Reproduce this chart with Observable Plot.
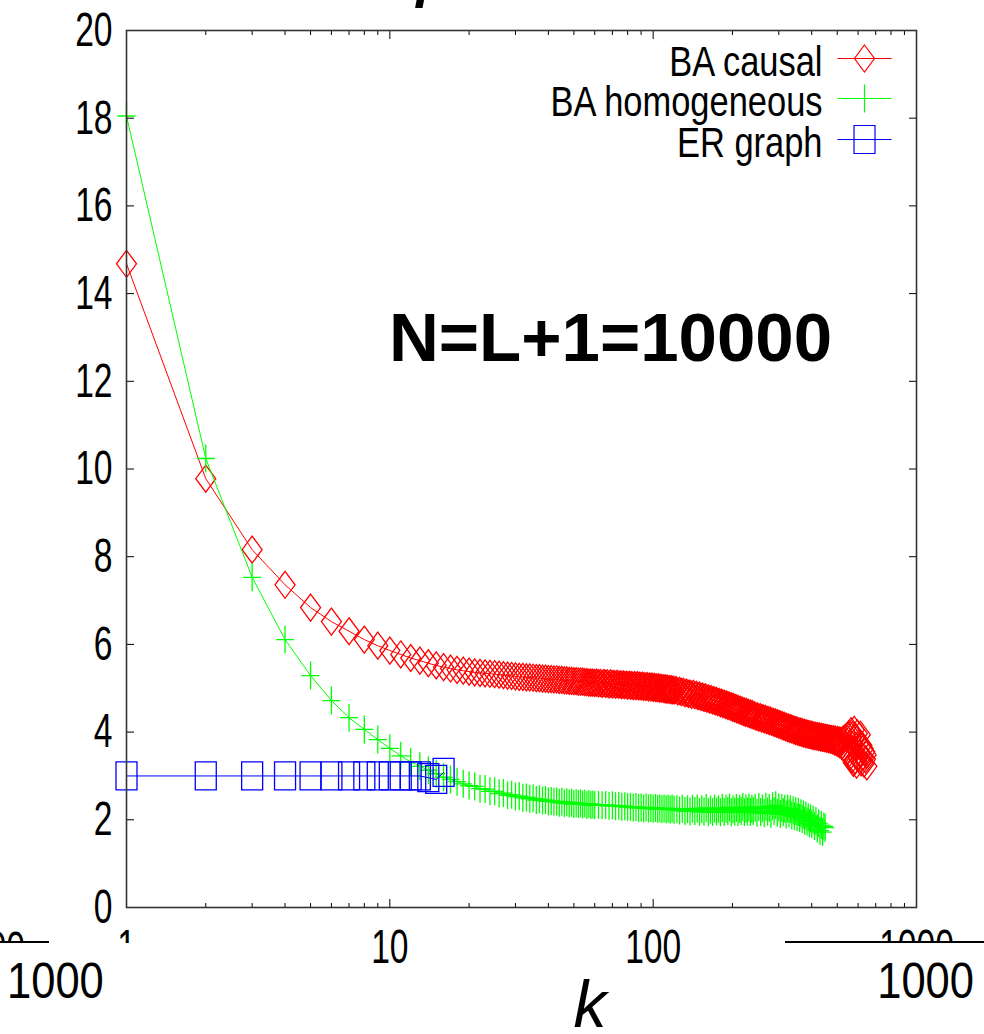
<!DOCTYPE html>
<html>
<head>
<meta charset="utf-8">
<script src="https://cdn.jsdelivr.net/npm/d3@7"></script>
<script src="https://cdn.jsdelivr.net/npm/@observablehq/plot@0.6"></script>
<style>
  html, body { margin: 0; padding: 0; background: #fff; }
  svg { display: block; }
</style>
</head>
<body>
<div id="chart"></div>
<script>
// ---------------- data ----------------
const xTicksMajor = [1, 10, 100, 1000];
const xTicksMinor = [2, 3, 4, 5, 6, 7, 8, 9, 20, 30, 40, 50, 60, 70, 80, 90, 200, 300, 400, 500, 600, 700, 800, 900];
const yTicks = [0, 2, 4, 6, 8, 10, 12, 14, 16, 18, 20];

const seriesNames = ["BA causal", "BA homogeneous", "ER graph"];
const seriesColors = ["#ff0000", "#00ff00", "#0000ff"];
const annotation = "N=L+1=10000";
const xLabel = "k";

// degree k sampled densely (as in the source, where every integer k is drawn)
const redK = [...d3.range(1, 121), ...d3.range(122, 241, 2), ...d3.range(243, 403, 3), ...d3.range(404, 649, 4)];
const redV = [
  // 1..60
  14.68, 9.78, 8.16, 7.36, 6.84, 6.52, 6.30, 6.11, 5.97, 5.86,
  5.77, 5.69, 5.63, 5.57, 5.52, 5.48, 5.45, 5.42, 5.40, 5.38,
  5.36, 5.35, 5.34, 5.33, 5.32, 5.31, 5.30, 5.29, 5.28, 5.27,
  5.26, 5.26, 5.25, 5.25, 5.24, 5.23, 5.23, 5.22, 5.22, 5.21,
  5.21, 5.20, 5.20, 5.19, 5.19, 5.18, 5.18, 5.17, 5.17, 5.16,
  5.16, 5.15, 5.15, 5.15, 5.14, 5.14, 5.13, 5.13, 5.13, 5.12,
  // 61..120
  5.13, 5.11, 5.12, 5.10, 5.12, 5.10, 5.11, 5.09, 5.11, 5.09,
  5.10, 5.08, 5.10, 5.08, 5.09, 5.07, 5.09, 5.07, 5.08, 5.06,
  5.08, 5.06, 5.07, 5.05, 5.07, 5.05, 5.07, 5.04, 5.06, 5.04,
  5.06, 5.03, 5.05, 5.03, 5.05, 5.02, 5.04, 5.02, 5.04, 5.01,
  5.03, 5.01, 5.02, 5.00, 5.02, 4.99, 5.01, 4.99, 5.00, 4.98,
  5.00, 4.97, 4.99, 4.97, 4.98, 4.96, 4.98, 4.95, 4.97, 4.95,
  // 122..240 step 2
  4.96, 4.93, 4.94, 4.91, 4.92, 4.89, 4.90, 4.87, 4.88, 4.85,
  4.87, 4.84, 4.85, 4.82, 4.83, 4.80, 4.81, 4.78, 4.79, 4.76,
  4.77, 4.74, 4.75, 4.72, 4.73, 4.70, 4.71, 4.68, 4.69, 4.66,
  4.67, 4.64, 4.65, 4.62, 4.63, 4.60, 4.61, 4.58, 4.59, 4.56,
  4.57, 4.54, 4.55, 4.52, 4.53, 4.50, 4.51, 4.48, 4.49, 4.46,
  4.47, 4.44, 4.46, 4.43, 4.44, 4.41, 4.42, 4.40, 4.41, 4.38,
  // 243..402 step 3
  4.38, 4.35, 4.36, 4.33, 4.34, 4.31, 4.32, 4.29, 4.30, 4.27,
  4.28, 4.25, 4.26, 4.23, 4.24, 4.21, 4.22, 4.19, 4.20, 4.17,
  4.18, 4.15, 4.16, 4.13, 4.14, 4.11, 4.12, 4.09, 4.10, 4.07,
  4.09, 4.06, 4.07, 4.04, 4.05, 4.03, 4.04, 4.01, 4.02, 4.00,
  4.01, 3.98, 4.00, 3.97, 3.98, 3.96, 3.97, 3.95, 3.96, 3.94,
  3.95, 3.93, 3.94, 3.92,
  // 404..648 step 4
  3.93, 3.91, 3.92, 3.90, 3.91, 3.89, 3.90, 3.88, 3.89, 3.87,
  3.88, 3.86, 3.87, 3.85, 3.86, 3.84, 3.85, 3.83, 3.84, 3.81,
  3.84, 3.79, 3.83, 3.77, 3.82, 3.75, 3.81, 3.72, 3.80, 3.69,
  3.82, 3.65, 3.85, 3.60, 3.88, 3.55, 3.92, 3.50, 3.96, 3.45,
  4.02, 3.38, 3.93, 3.30, 4.05, 3.36, 3.88, 3.26, 3.97, 3.42,
  3.74, 3.52, 3.94, 3.31, 3.70, 3.43, 3.62, 3.28, 3.55, 3.38,
  3.48, 3.22
];

const greenK = [...d3.range(1, 61), ...d3.range(62, 121, 2), ...d3.range(123, 241, 3), ...d3.range(244, 401, 4), ...d3.range(405, 451, 5)];
const greenV = [
  18.05, 10.24, 7.53, 6.11, 5.29, 4.72, 4.33, 4.06, 3.83, 3.63,
  3.46, 3.32, 3.22, 3.13, 3.05, 2.97, 2.92, 2.87, 2.82, 2.78,
  2.76, 2.71, 2.70, 2.65, 2.65, 2.60, 2.61, 2.56, 2.57, 2.53,
  2.54, 2.50, 2.51, 2.48, 2.49, 2.45, 2.47, 2.44, 2.45, 2.42,
  2.43, 2.41, 2.42, 2.39, 2.41, 2.38, 2.40, 2.37, 2.39, 2.36,
  2.38, 2.36, 2.37, 2.35, 2.37, 2.34, 2.36, 2.34, 2.35, 2.33,
  // 62..120 step 2
  2.34, 2.33, 2.34, 2.32, 2.33, 2.31, 2.32, 2.30, 2.31, 2.29,
  2.30, 2.28, 2.29, 2.27, 2.28, 2.26, 2.28, 2.26, 2.27, 2.25,
  2.27, 2.25, 2.26, 2.24, 2.26, 2.24, 2.25, 2.23, 2.26, 2.23,
  // 123..240 step 3
  2.24, 2.21, 2.25, 2.20, 2.24, 2.19, 2.25, 2.20, 2.26, 2.18,
  2.24, 2.19, 2.27, 2.17, 2.23, 2.18, 2.26, 2.19, 2.24, 2.17,
  2.27, 2.18, 2.25, 2.20, 2.28, 2.17, 2.24, 2.19, 2.27, 2.18,
  2.25, 2.20, 2.29, 2.17, 2.26, 2.19, 2.28, 2.18, 2.25, 2.20,
  // 244..400 step 4
  2.27, 2.16, 2.29, 2.18, 2.26, 2.15, 2.30, 2.19, 2.27, 2.14,
  2.31, 2.20, 2.33, 2.16, 2.28, 2.13, 2.27, 2.18, 2.25, 2.12,
  2.26, 2.15, 2.24, 2.10, 2.22, 2.08, 2.20, 2.06, 2.18, 2.04,
  2.15, 2.02, 2.12, 1.98, 2.10, 1.96, 2.06, 1.92, 2.03, 1.90,
  // 405..450 step 5
  2.00, 1.86, 1.97, 1.80, 1.92, 1.75, 1.88, 1.72, 1.85, 1.82
];

const blueK = [1, 2, 3, 4, 5, 6, 7, 8, 9, 10, 11, 12, 13, 14, 15, 16];
const blueV = [3.0, 3.0, 3.0, 3.0, 3.0, 3.0, 3.0, 3.0, 3.0, 3.0, 3.0, 3.0, 3.0, 2.96, 2.92, 3.08];

// ---------------- build rows ----------------
const red = redK.map((k, i) => ({k, v: redV[i]})).filter(d => d.v != null);
const green = greenK.map((k, i) => ({k, v: greenV[i]})).filter(d => d.v != null);
const blue = blueK.map((k, i) => ({k, v: blueV[i]}));

// ---------------- symbols (gnuplot style, vertically stretched) ----------------
const diamond = {draw(c) { c.moveTo(0, -13.5); c.lineTo(10, 0); c.lineTo(0, 13.5); c.lineTo(-10, 0); c.closePath(); }};
const plus = {draw(c) { c.moveTo(-9, 0); c.lineTo(9, 0); c.moveTo(0, -14); c.lineTo(0, 14); }};
const square = {draw(c) { c.moveTo(-10.5, -14); c.lineTo(10.5, -14); c.lineTo(10.5, 14); c.lineTo(-10.5, 14); c.closePath(); }};
const symbols = [diamond, plus, square];
const withLine = (s) => ({draw(c, size) { c.moveTo(-27, 0); c.lineTo(27, 0); s.draw(c, size); }});

const sans = '"Liberation Sans", Arial, sans-serif';

const seriesData = [red, green, blue];
const seriesMarks = seriesData.flatMap((data, i) => [
  Plot.line(data, {x: "k", y: "v", stroke: seriesColors[i], strokeWidth: 1}),
  Plot.dot(data, {x: "k", y: "v", symbol: symbols[i], stroke: seriesColors[i], fill: "none", strokeWidth: 1.3})
]);

const legendDy = [28, 68, 109];
const legendMarks = seriesNames.flatMap((name, i) => [
  Plot.text([name], {frameAnchor: "top-right", dx: -94, dy: legendDy[i] + 4, textAnchor: "end", lineAnchor: "middle",
    fontSize: 42, fontFamily: sans, fill: "black"}),
  Plot.dot([name], {frameAnchor: "top-right", dx: -52, dy: legendDy[i], symbol: withLine(symbols[i]),
    stroke: seriesColors[i], fill: "none", strokeWidth: 1.2})
]);

const plot = Plot.plot({
  width: 984,
  height: 1034,
  marginLeft: 126,
  marginRight: 68,
  marginTop: 30,
  marginBottom: 127,
  style: {fontFamily: sans, background: "white", color: "black", overflow: "visible"},
  x: {type: "log", domain: [1, 1000]},
  y: {domain: [0, 20]},
  marks: [
    ...seriesMarks,
    Plot.axisY({ticks: yTicks, anchor: "left", tickSize: -8, tickPadding: 22, fontSize: 48, label: null, tickFormat: d => String(d)}),
    Plot.axisY({ticks: yTicks, anchor: "right", tickSize: -8, label: null, tickFormat: () => ""}),
    Plot.axisX({ticks: xTicksMajor, anchor: "bottom", tickSize: -8, tickPadding: 29, fontSize: 48, label: null, tickFormat: d => String(d)}),
    Plot.axisX({ticks: xTicksMinor, anchor: "bottom", tickSize: -4, label: null, tickFormat: () => ""}),
    Plot.axisX({ticks: xTicksMajor, anchor: "top", tickSize: -8, label: null, tickFormat: () => ""}),
    Plot.axisX({ticks: xTicksMinor, anchor: "top", tickSize: -4, label: null, tickFormat: () => ""}),
    Plot.frame({stroke: "#333", strokeWidth: 1.6}),
    ...legendMarks,
    Plot.text([annotation], {frameAnchor: "top-left", dx: 484, dy: 308, textAnchor: "middle", lineAnchor: "middle",
      fontSize: 69, fontWeight: "bold", fontFamily: sans, fill: "black"})
  ]
});

document.getElementById("chart").appendChild(plot);

// condensed look of the original (Helvetica stretched vertically)
function squeeze(nodes, factor) {
  nodes.forEach(node => {
    if (!node.textContent) return;
    const L = node.getComputedTextLength();
    if (L > 0) {
      node.setAttribute("textLength", (L * factor).toFixed(2));
      node.setAttribute("lengthAdjust", "spacingAndGlyphs");
    }
  });
}
const svgNode = plot;
squeeze([...svgNode.querySelectorAll('g[aria-label="y-axis tick label"] text, g[aria-label="x-axis tick label"] text')], 0.70);
squeeze([...svgNode.querySelectorAll("text")].filter(t => seriesNames.includes(t.textContent)), 0.82);

// ---------------- cropped-figure remnants below the axis ----------------
const svg = d3.select(plot);
const g = svg.append("g").attr("font-family", sans).attr("fill", "black");
// part of a neighbouring panel's "1000" label, cut off at the bottom
const partial = g.append("text").attr("x", 25).attr("y", 965).attr("text-anchor", "end").attr("font-size", 48).text("1000");
squeeze([partial.node()], 0.70);
// white covers hiding the lower parts of labels
[[0, 49], [100, 50], [785, 199]].forEach(([x, w]) => {
  g.append("rect").attr("x", x).attr("y", 943).attr("width", w).attr("height", 24).attr("fill", "white");
});
// horizontal cut lines
[[0, 49], [785, 984]].forEach(([x1, x2]) => {
  g.append("line").attr("x1", x1).attr("x2", x2).attr("y1", 942).attr("y2", 942).attr("stroke", "black").attr("stroke-width", 2);
});
// full "1000" labels of the neighbouring panels
const t1 = g.append("text").attr("x", 7).attr("y", 998).attr("text-anchor", "start").attr("font-size", 50).text("1000");
const t2 = g.append("text").attr("x", 974).attr("y", 998).attr("text-anchor", "end").attr("font-size", 50).text("1000");
squeeze([t1.node(), t2.node()], 0.87);
// x axis label
g.append("text").attr("x", 590).attr("y", 1027).attr("text-anchor", "middle").attr("font-size", 66)
  .attr("font-style", "italic").text(xLabel);
// tail of a title glyph cut at the top edge
g.append("text").attr("x", 432).attr("y", -3).attr("text-anchor", "middle").attr("font-size", 52)
  .attr("font-style", "italic").attr("font-weight", "bold").text("ρ");
</script>
</body>
</html>
